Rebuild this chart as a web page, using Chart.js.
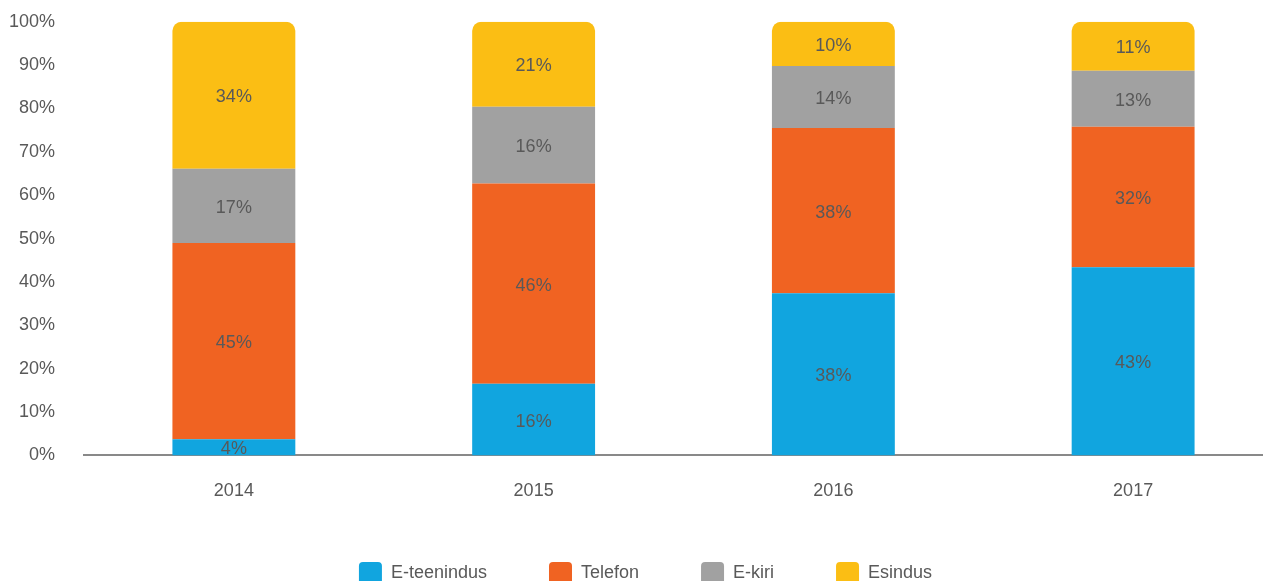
<!DOCTYPE html>
<html>
<head>
<meta charset="utf-8">
<script src="https://cdn.jsdelivr.net/npm/chart.js@4.4.1/dist/chart.umd.min.js"></script>
<style>
  html, body { margin: 0; padding: 0; background: #fff; overflow: hidden; }
  #wrap { position: absolute; left: 0; top: -18px; width: 1290px; height: 613px; }
</style>
</head>
<body>
<div id="wrap"><canvas id="chart" width="1290" height="613"></canvas></div>
<script>
// Years on the x axis
const years = ["2014", "2015", "2016", "2017"];

// Segment heights (percent)
const eTeenindus = [3.7, 16.5, 37.4, 43.4];
const telefon = [45.3, 46.2, 38.1, 32.4];
const eKiri = [17.1, 17.7, 14.3, 12.9];
const esindus = [33.9, 19.6, 10.2, 11.3];

// Labels printed inside the bars
const eTeenindusLabels = ["4%", "16%", "38%", "43%"];
const telefonLabels = ["45%", "46%", "38%", "32%"];
const eKiriLabels = ["17%", "16%", "14%", "13%"];
const esindusLabels = ["34%", "21%", "10%", "11%"];

const textColor = "#595959";
const fontFamily = "'Liberation Sans', Arial, sans-serif";

// Draw the percentage text in the middle of each bar segment
const barLabels = {
  id: "barLabels",
  afterDatasetsDraw(chart) {
    const ctx = chart.ctx;
    ctx.save();
    ctx.font = "18px " + fontFamily;
    ctx.fillStyle = textColor;
    ctx.textAlign = "center";
    ctx.textBaseline = "middle";
    chart.data.datasets.forEach((ds, i) => {
      const meta = chart.getDatasetMeta(i);
      meta.data.forEach((bar, j) => {
        const y = (bar.y + bar.base) / 2 + 2;
        ctx.fillText(ds.labelsText[j], bar.x, y);
      });
    });
    ctx.restore();
  }
};

const ctx = document.getElementById("chart").getContext("2d");
const chart = new Chart(ctx, {
  type: "bar",
  data: {
    labels: years,
    datasets: [
      { label: "E-teenindus", data: eTeenindus, labelsText: eTeenindusLabels, backgroundColor: "#11a5df" },
      { label: "Telefon", data: telefon, labelsText: telefonLabels, backgroundColor: "#f06322" },
      { label: "E-kiri", data: eKiri, labelsText: eKiriLabels, backgroundColor: "#a1a1a1" },
      {
        label: "Esindus",
        data: esindus,
        labelsText: esindusLabels,
        backgroundColor: "#fbbe14",
        borderRadius: { topLeft: 9, topRight: 9, bottomLeft: 0, bottomRight: 0 },
        borderSkipped: "bottom"
      }
    ]
  },
  options: {
    responsive: false,
    animation: false,
    layout: {
      padding: { left: 8, right: 7, top: 13, bottom: 0 }
    },
    datasets: {
      bar: { barPercentage: 0.41, categoryPercentage: 1 }
    },
    scales: {
      x: {
        stacked: true,
        grid: { display: false },
        border: { display: true, color: "#898989", width: 2 },
        ticks: {
          color: textColor,
          padding: 17,
          font: { family: fontFamily, size: 18 }
        },
        afterFit: (scale) => { scale.height = scale.height - 19; }
      },
      y: {
        stacked: true,
        min: 0,
        max: 100,
        grid: { display: false, drawTicks: false },
        border: { display: false },
        ticks: {
          stepSize: 10,
          color: textColor,
          padding: 29,
          font: { family: fontFamily, size: 18 },
          callback: (v) => v + "%"
        },
        afterFit: (scale) => { scale.width = 76; }
      }
    },
    plugins: {
      tooltip: { enabled: false },
      legend: {
        position: "bottom",
        labels: {
          color: textColor,
          boxWidth: 23,
          boxHeight: 23,
          useBorderRadius: true,
          borderRadius: 4,
          padding: 62,
          font: { family: fontFamily, size: 18 }
        }
      }
    }
  },
  plugins: [barLabels]
});
</script>
</body>
</html>
